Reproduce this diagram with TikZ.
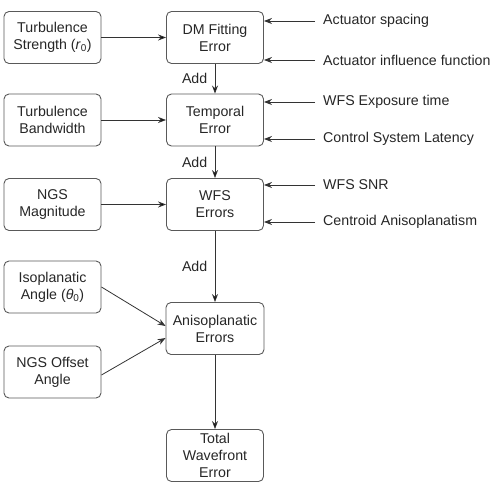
\documentclass[tikz,border=0pt]{standalone}
\usepackage{fontspec}
\setmainfont{Liberation Sans}
\usetikzlibrary{arrows.meta,positioning}

\begin{document}
\begin{tikzpicture}[%
    >={Stealth[length=8pt,width=6pt]},
    node distance=162.5pt,
    on grid,
    block/.style={draw=black!65, line width=0.9pt, rounded corners=5pt,
      align=center, minimum width=97pt, minimum height=52pt, inner sep=2pt,
      text=black!85, font=\fontsize{14.2}{17}\selectfont},
    param/.style={anchor=west, inner xsep=8pt, inner ysep=0pt,
      text=black!85, font=\fontsize{14.2}{17}\selectfont},
    addlabel/.style={left=4pt, text=black!85, font=\fontsize{14.2}{17}\selectfont},
    link/.style={->, draw=black!80, line width=0.8pt}
  ]
    \useasboundingbox (0,0) rectangle (494pt,-494pt);

    % left column and error chain
    \node[block] (turb) at (52.5pt,-37.5pt) {Turbulence\\Strength (\textit{r}\textsubscript{0})};
    \node[block] (dm) [right=of turb] {DM Fitting\\Error};
    \node[block] (bw) [below=82.5pt of turb] {Turbulence\\Bandwidth};
    \node[block] (temp) [right=of bw] {Temporal\\Error};
    \node[block] (ngs) [below=84.5pt of bw] {NGS\\Magnitude};
    \node[block] (wfs) [right=of ngs] {WFS\\Errors};
    \node[block] (iso) [below=82.5pt of ngs] {Isoplanatic\\Angle (\textit{θ}\textsubscript{0})};
    \node[block] (off) [below=85pt of iso] {NGS Offset\\Angle};
    \node[block, minimum width=98pt] (aniso) [below=124pt of wfs] {Anisoplanatic\\Errors};
    \node[block] (total) [below=127pt of aniso] {Total\\Wavefront\\Error};

    % parameters on the right
    \node[param] (spacing) at (315pt,-21pt) {Actuator spacing};
    \node[param] (influence) at (315pt,-60pt) {Actuator influence function};
    \node[param] (exposure) at (315pt,-102pt) {WFS Exposure time};
    \node[param] (latency) at (315pt,-139pt) {Control System Latency};
    \node[param] (snr) at (315pt,-185pt) {WFS SNR};
    \node[param] (centroid) at (315pt,-222pt) {Centroid Anisoplanatism};

    \path[link] (turb) edge (dm)
                (bw)   edge (temp)
                (ngs)  edge (wfs)
                (dm)   edge node[addlabel] {Add} (temp)
                (temp) edge node[addlabel] {Add} (wfs)
                (wfs)  edge node[addlabel] {Add} (aniso)
                (aniso) edge (total);

    \draw[link] (iso.east) -- ([yshift=2.5pt]aniso.west);
    \draw[link] ([yshift=-3pt]off.east) -- ([yshift=-9.5pt]aniso.west);

    \foreach \p/\b in {spacing/dm, influence/dm, exposure/temp, latency/temp, snr/wfs, centroid/wfs}
      \draw[link] (\p.west) -- (\p.west -| \b.east);
\end{tikzpicture}
\end{document}
